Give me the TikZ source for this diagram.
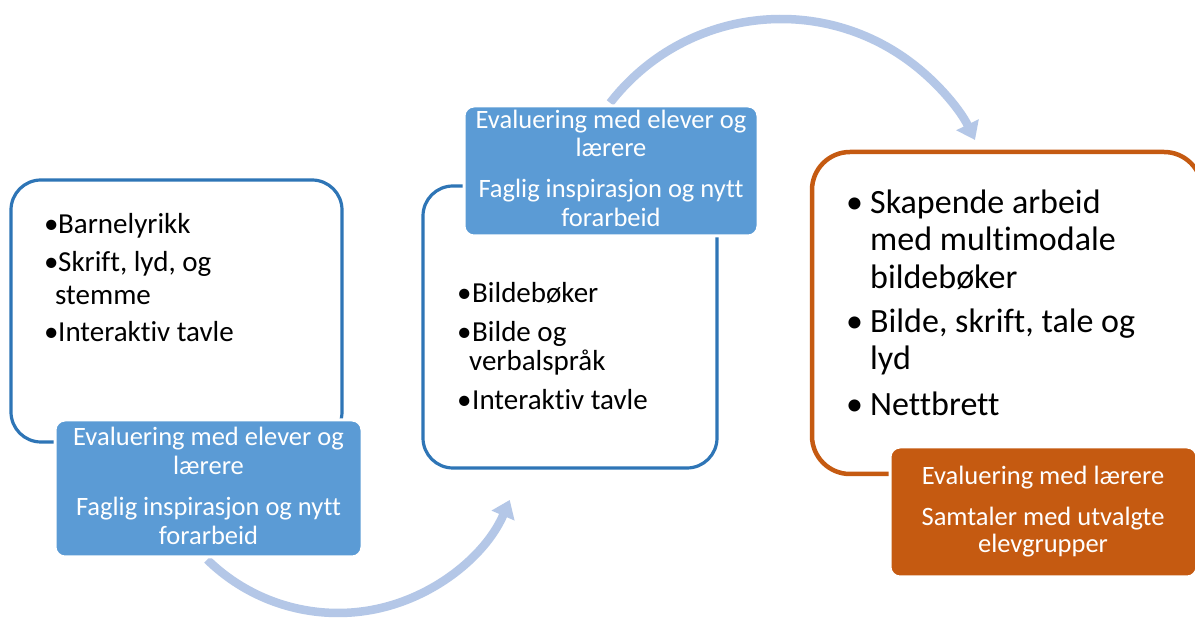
\documentclass[tikz,border=0pt]{standalone}
\usepackage{fontspec}
\setmainfont{Carlito}[Ligatures={NoCommon}]
\usetikzlibrary{arrows.meta}
\definecolor{outblue}{HTML}{2E75B6}
\definecolor{fillblue}{HTML}{5B9BD5}
\definecolor{orangec}{HTML}{C55A11}
\definecolor{arrowc}{HTML}{B4C7E7}
\tikzset{
  outline/.style={line width=3.2pt, rounded corners=30pt},
  filledbox/.style={draw=white, line width=3pt, rounded corners=10pt},
  bigtxt/.style={anchor=base west, inner sep=0pt, font=\fontsize{29}{34}\selectfont},
  hugetxt/.style={anchor=base west, inner sep=0pt, font=\fontsize{34}{40}\selectfont},
  boxtxt/.style={anchor=base, inner sep=0pt, text=white, font=\fontsize{26.5}{30}\selectfont},
  arc arrow/.style={draw=arrowc, line width=8.5pt, -{Triangle[width=24pt,length=17pt]}}
}
\begin{document}
\begin{tikzpicture}[x=1pt,y=1pt]
\useasboundingbox (0,0) rectangle (1195,621);
\clip (0,0) rectangle (1195,621);
\fill[white] (0,0) rectangle (1195,621);

% arrows (behind boxes)
\coordinate (botc) at (338,195);
\coordinate (topc) at (781,386);
\draw[arc arrow] ([shift={(225.6:187)}]botc) arc[start angle=225.6, end angle=336.7, radius=187];
\draw[arc arrow] ([shift={(142.3:216)}]topc) arc[start angle=142.3, end angle=26.1, radius=216];

% left
\draw[outline, draw=outblue] (11,179) rectangle (342,441);
\filldraw[filledbox, fill=fillblue] (55,64) rectangle (362,201);
\node[bigtxt] (l1) at (44,387) {\makebox[14pt][l]{\textbullet}Barnelyrikk};
\node[bigtxt] (l2) at (44,349) {\makebox[14pt][l]{\textbullet}Skrift, lyd, og};
\node[bigtxt] (l3) at (55,316) {stemme};
\node[bigtxt] (l4) at (44,279) {\makebox[14pt][l]{\textbullet}Interaktiv tavle};
\node[boxtxt] (lb1) at (208.5,175) {Evaluering med elever og};
\node[boxtxt] (lb2) at (208.5,146) {lærere};
\node[boxtxt] (lb3) at (208.5,105) {Faglig inspirasjon og nytt};
\node[boxtxt] (lb4) at (208.5,76) {forarbeid};

% middle
\draw[outline, draw=outblue] (423,153) rectangle (717,435);
\filldraw[filledbox, fill=fillblue] (464,385) rectangle (758,515);
\node[bigtxt] (m1) at (457,318) {\makebox[15pt][l]{\textbullet}Bildebøker};
\node[bigtxt] (m2) at (457,279) {\makebox[15pt][l]{\textbullet}Bilde og};
\node[bigtxt] (m3) at (469,250) {verbalspråk};
\node[bigtxt] (m4) at (457,211) {\makebox[15pt][l]{\textbullet}Interaktiv tavle};
\node[boxtxt] (mb1) at (611,492) {Evaluering med elever og};
\node[boxtxt] (mb2) at (611,464) {lærere};
\node[boxtxt] (mb3) at (611,423) {Faglig inspirasjon og nytt};
\node[boxtxt] (mb4) at (611,394) {forarbeid};

% right
\draw[outline, draw=orangec, line width=4.5pt, rounded corners=38pt] (812,147) rectangle (1202,469);
\filldraw[filledbox, fill=orangec] (890,44) rectangle (1197,174);
\node[hugetxt] (r1) at (846,407) {\makebox[24pt][l]{\textbullet}Skapende arbeid};
\node[hugetxt] (r2) at (870,370) {med multimodale};
\node[hugetxt] (r3) at (870,332) {bildebøker};
\node[hugetxt] (r4) at (846,288) {\makebox[24pt][l]{\textbullet}Bilde, skrift, tale og};
\node[hugetxt] (r5) at (870,251) {lyd};
\node[hugetxt] (r6) at (846,205) {\makebox[24pt][l]{\textbullet}Nettbrett};
\node[boxtxt] (rb1) at (1043,136) {Evaluering med lærere};
\node[boxtxt] (rb2) at (1043,95) {Samtaler med utvalgte};
\node[boxtxt] (rb3) at (1043,68) {elevgrupper};
\end{tikzpicture}
\end{document}
